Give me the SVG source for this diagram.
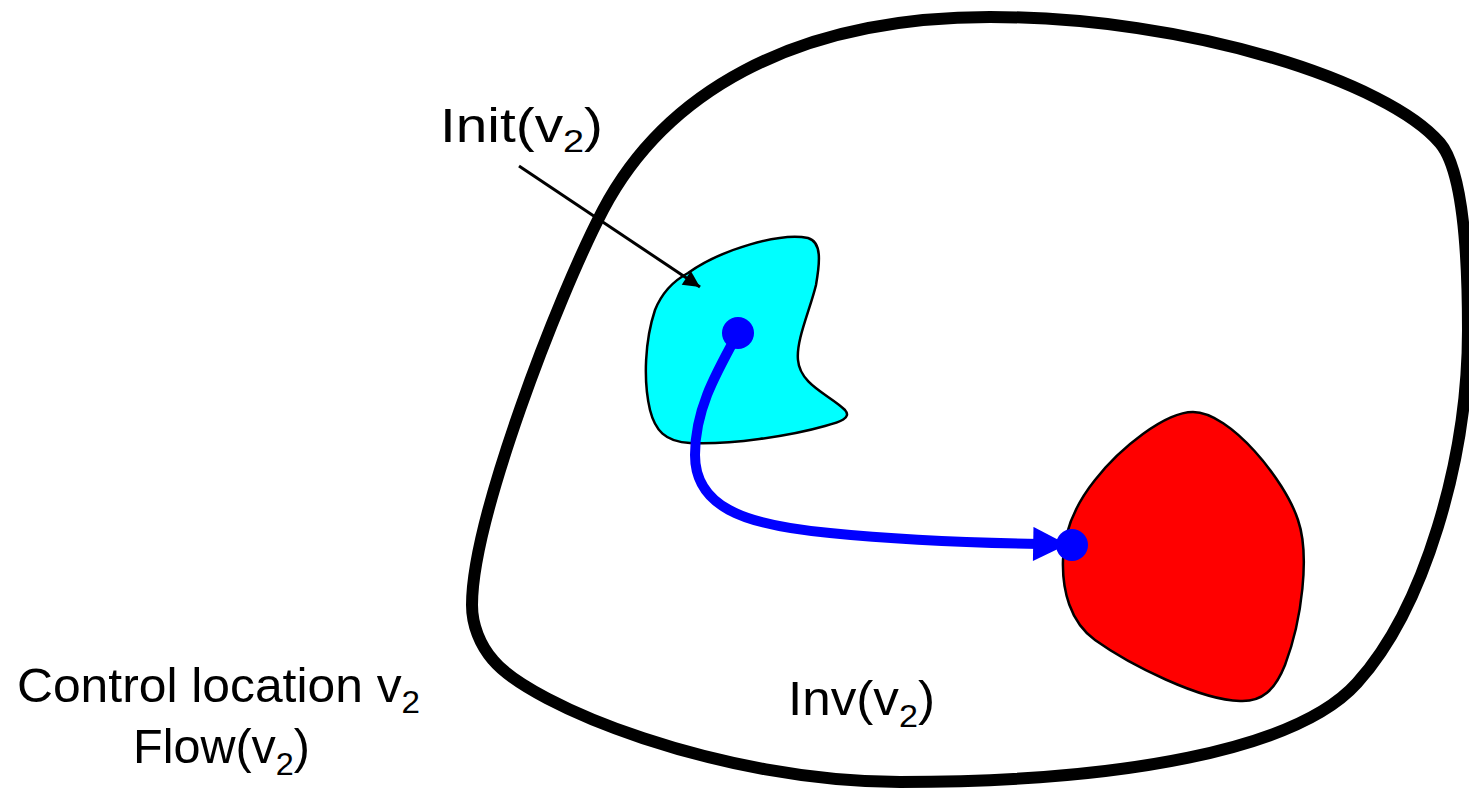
<svg xmlns="http://www.w3.org/2000/svg" width="1469" height="790" viewBox="0 0 1469 790">
<style>
.lbl{font-family:"Liberation Sans","DejaVu Sans",sans-serif;font-size:48px;fill:#000}
.sub{font-size:32px}
.region{stroke:#000;stroke-width:2.5;stroke-linejoin:round}
.dot{fill:#0000ff}
</style>
<defs>
<marker id="blk" viewBox="0 0 10 10" refX="10" refY="5" markerWidth="6" markerHeight="5.5" markerUnits="strokeWidth" orient="auto">
<path d="M0,0 L10,5 L0,10 Z" fill="#000"/>
</marker>
<marker id="blu" viewBox="0 0 10 10" refX="2" refY="5" markerWidth="3.8" markerHeight="3.4" markerUnits="strokeWidth" orient="auto">
<path d="M0,0 L10,5 L0,10 Z" fill="#0000ff"/>
</marker>
</defs>
<rect width="1469" height="790" fill="#fff"/>
<g id="location">
<path d="M603,210 C663,96 790,17 990,17 C1190,17 1388,82 1440,143 C1462.6,169.8 1468,250 1468,330 C1468,460 1424,609 1357,683 C1297,750 1120,782 900,782 C720,782 531,706 493,660 C480,645 472,625 472,605 C472,520 557,298 603,210 Z" fill="none" stroke="#000" stroke-width="12"/>
</g>
<g id="init">
<path class="region" fill="#00ffff" d="M688,273 C720,250 780,232 808,238 C822,242 820,262 816,285 C810,310 796,340 798,360 C800,385 830,395 845,410 C852,418 840,422 825,426 C790,436 730,445 690,443 C665,442 655,430 650,410 C643,380 645,340 655,310 C663,290 675,280 688,273 Z"/>
</g>
<g id="unsafe">
<path class="region" fill="#ff0000" d="M1193,412 C1230,412 1285,480 1298,520 C1310,555 1302,620 1285,665 C1275,690 1262,702 1240,701 C1200,700 1130,665 1095,640 C1070,622 1062,590 1063,560 C1064,530 1075,505 1095,480 C1120,448 1165,412 1193,412 Z"/>
</g>
<g id="connectors">
<line x1="519" y1="166" x2="700" y2="287" stroke="#000" stroke-width="3" marker-end="url(#blk)"/>
<path d="M738,333 C715,375 695,410 695,455 C695,505 740,525 830,533 C900,540 980,543 1040,544" fill="none" stroke="#0000ff" stroke-width="10" marker-end="url(#blu)"/>
</g>
<g id="start-point"><circle class="dot" cx="738" cy="333" r="16"/></g>
<g id="end-point"><circle class="dot" cx="1072" cy="545" r="16"/></g>
<g id="labels">
<text class="lbl" x="440" y="142" textLength="163" lengthAdjust="spacingAndGlyphs">Init(v<tspan class="sub" dy="10">2</tspan><tspan dy="-10">)</tspan></text>
<text class="lbl" x="788" y="715" textLength="147" lengthAdjust="spacingAndGlyphs">Inv(v<tspan class="sub" dy="12">2</tspan><tspan dy="-12">)</tspan></text>
<text class="lbl" x="17" y="702" textLength="403" lengthAdjust="spacingAndGlyphs">Control location v<tspan class="sub" dy="11">2</tspan></text>
<text class="lbl" x="133" y="763" textLength="177" lengthAdjust="spacingAndGlyphs">Flow(v<tspan class="sub" dy="12">2</tspan><tspan dy="-12">)</tspan></text>
</g>
</svg>
